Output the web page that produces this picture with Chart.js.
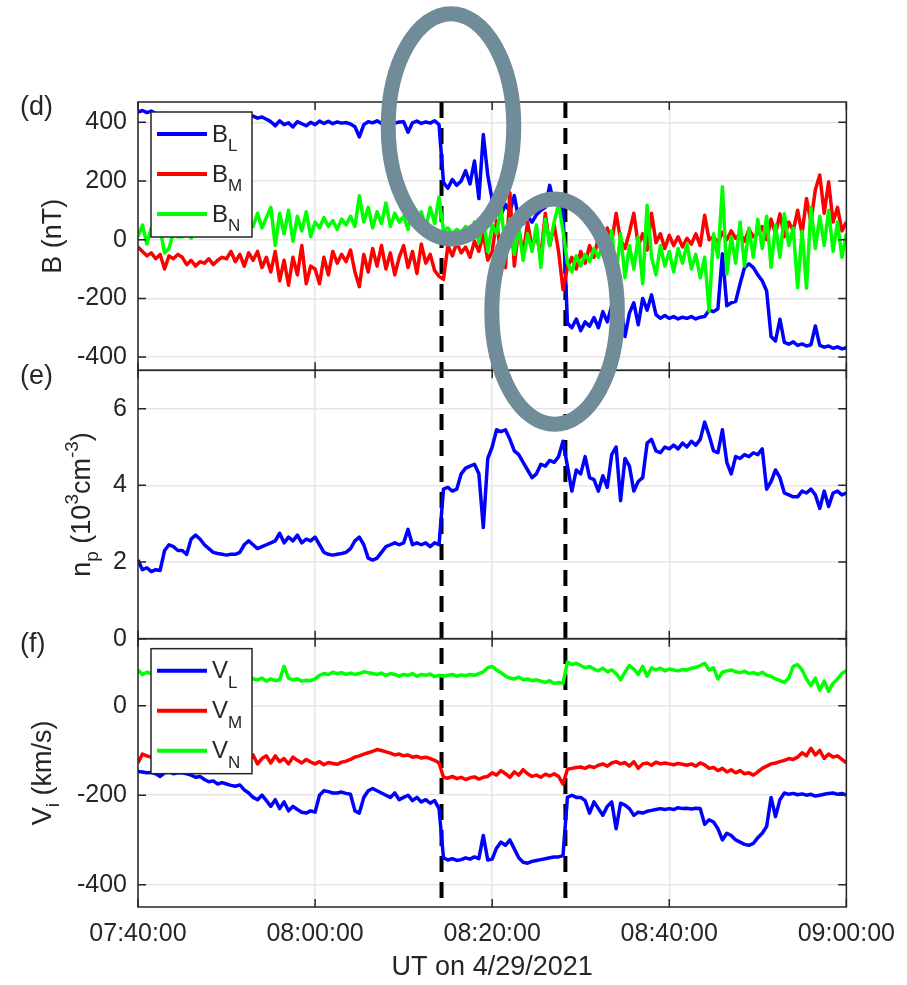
<!DOCTYPE html>
<html>
<head>
<meta charset="utf-8">
<title>B, n_p and V_i on 4/29/2021</title>
<script src="https://cdn.jsdelivr.net/npm/chart.js@4.4.1/dist/chart.umd.min.js"></script>
<style>
  html, body { margin: 0; padding: 0; background: #fff; }
  .canvasDiv { width: 907px; height: 985px; }
</style>
</head>
<body>
<div class="canvasDiv"><canvas id="myCanvas" width="907" height="985"></canvas></div>
<script>
// minutes after 07:40:00 UT, one sample every 30 s
const SAMPLE_STEP = 0.5;
const X_TICKS = [0, 20, 40, 60, 80];
const X_TICK_LABELS = ["07:40:00", "08:00:00", "08:20:00", "08:40:00", "09:00:00"];
const B_TICKS = [-400, -200, 0, 200, 400];
const N_TICKS = [0, 2, 4, 6];
const V_TICKS = [-400, -200, 0];

const bL = [
  435, 440, 433, 438, 430, 428, 430, 426, 428, 425,
  427, 424, 426, 422, 425, 423, 424, 421, 423, 420,
  422, 419, 421, 418, 420, 416, 421, 414, 418, 410,
  402, 388, 405, 392, 398, 384, 402, 395, 388, 400,
  392, 404, 396, 403, 395, 401, 397, 399, 394, 385,
  350, 392, 402, 398, 405, 396, 400, 403, 397, 401,
  402, 366, 398, 404, 396, 401, 397, 405, 392, 195,
  175, 205, 185, 200, 235, 190, 268, 140, 358, 220,
  135, 150, 85, 120, 95, 150, 70, 55, 80, 60,
  85, 100, 110, 185, 120, 135, 95, -285, -300, -270,
  -310, -280, -295, -265, -300, -245, -280, -225, -300, -215,
  -330, -250, -215, -290, -200, -240, -188, -255, -268, -258,
  -268, -262, -270, -264, -268, -262, -270, -264, -262, -240,
  -245, -235, -48, -225, -215, -210, -150, -95, -82, -95,
  -120, -140, -175, -330, -345, -271, -350, -356, -348, -360,
  -355, -362, -358, -294, -360, -366, -362, -370, -365, -372, -368
];
const bM = [
  -25, -40, -55, -45, -65, -50, -100, -55, -65, -50,
  -60, -85, -70, -90, -75, -80, -65, -85, -70, -60,
  -65, -40, -75, -50, -90, -45, -70, -40, -95, -60,
  -110, -40, -140, -70, -155, -60, -120, -20, -150, -90,
  -100, -150, -60, -120, -40, -80, -50, -75, -35, -110,
  -160, -50, -110, -30, -90, -20, -100, -45, -120, -60,
  -20, -95, -40, -115, -15, -80, -50, -105, -125, -135,
  -20, -55, -10, -45, -25, -60, -5, -40, 20, -70,
  -40, 65, -60, -95, 160, -90, 40, -50, 60, -30,
  20, -60, 90, -20, 50, -40, -170, -95, -60, -100,
  -40, -80, -20, -60, 10, -50, 40, -10, 90, 0,
  -30, 25, 90, -20, 20, -35, 90, -10, 20, -30,
  15, -20, 10, -25, 5, -15, 20, -20, 83, 0,
  10, -10, 25, 0, 30, 5, 20, -5, 35, 10,
  20, 45, 0, 70, 20, 88, 10, 60, 30, 100,
  20, 140, 60, 170, 220, 90, 197, 60, 110, 30, 60
];
const bN = [
  10, 50, -15, 40, 20, 35, -45, -30, 25, 10,
  10, 25, 5, 30, 15, 35, 20, 40, 25, 45,
  30, 50, 35, 55, 40, 60, 45, 90, 40, 75,
  110, -20, 90, 20, 100, -5, 80, 30, 95, 10,
  60, 40, 75, 45, 65, 35, 70, 50, 80, 45,
  150, 60, 110, 40, 95, 55, 125, 45, 90, 60,
  80, 35, 120, 50, 95, 40, 110, 55, 145, 30,
  40, 20, 35, 25, 45, 20, 60, -10, 75, -40,
  50, 20, 110, -30, 70, -50, 40, -70, 20, -40,
  50, -95, 70, -20, 60, 122, 30, -80, -110, -55,
  -90, -50, -75, -30, -60, -10, -45, 30, -120, 20,
  -130, -20, -100, 10, -150, 117, -60, -120, -20, -90,
  -40, -110, -30, -80, -15, -100, -50, -130, -60, -243,
  20, -60, 180, -117, 10, -80, 60, -90, 40, -60,
  70, -30, 80, -94, 50, -60, 88, -20, 40, -163,
  30, -165, 110, -30, 80, -20, 100, -40, 60, -60, 20
];
const np = [
  2.05, 1.8, 1.85, 1.75, 1.8, 1.78, 2.3, 2.45, 2.4, 2.3,
  2.3, 2.2, 2.6, 2.7, 2.6, 2.45, 2.35, 2.25, 2.22, 2.2,
  2.18, 2.2, 2.2, 2.25, 2.45, 2.55, 2.45, 2.35, 2.4, 2.45,
  2.5, 2.55, 2.75, 2.5, 2.65, 2.55, 2.7, 2.5, 2.6, 2.55,
  2.65, 2.45, 2.25, 2.2, 2.18, 2.2, 2.22, 2.25, 2.35, 2.55,
  2.65, 2.45, 2.1, 2.05, 2.1, 2.25, 2.4, 2.45, 2.5, 2.45,
  2.5, 2.85, 2.45, 2.5, 2.45, 2.5, 2.4, 2.5, 2.45, 3.9,
  3.95, 3.85, 3.9, 4.3, 4.45, 4.5, 4.55, 4.3, 2.9, 4.7,
  5.0, 5.45, 5.4, 5.45, 5.2, 4.9, 4.8, 4.6, 4.4, 4.2,
  4.3, 4.55, 4.5, 4.65, 4.6, 4.75, 5.15, 4.5, 3.85, 4.4,
  4.3, 4.75, 4.2, 4.15, 3.85, 4.25, 3.95, 4.8, 5.0, 3.6,
  4.7, 4.5, 3.85, 4.1, 4.2, 5.1, 5.2, 4.9, 4.85, 5.0,
  4.95, 5.05, 4.95, 5.1, 5.0, 5.15, 5.05, 5.2, 5.65, 5.3,
  4.9, 4.85, 5.45, 4.6, 4.3, 4.75, 4.7, 4.8, 4.75, 4.85,
  4.8, 4.95, 3.9, 4.1, 4.4, 4.2, 3.8, 3.75, 3.7, 3.7,
  3.85, 3.8, 3.9, 3.75, 3.4, 3.85, 3.45, 3.8, 3.85, 3.75, 3.8
];
const vL = [
  -147, -148, -150, -149, -152, -158, -150, -148, -152, -150,
  -150, -152, -155, -160, -158, -165, -170, -168, -175, -172,
  -175, -178, -180, -177, -188, -195, -205, -210, -200, -212,
  -225, -210, -230, -215, -235, -225, -232, -238, -240, -235,
  -238, -200, -190, -192, -195, -195, -193, -196, -198, -235,
  -240, -205, -190, -185, -190, -195, -200, -205, -195, -210,
  -205, -200, -212, -205, -215, -210, -218, -212, -230, -340,
  -345, -342, -346, -344, -340, -343, -338, -342, -290, -345,
  -343, -318, -305, -312, -300, -320, -340, -350, -352, -348,
  -346, -344, -342, -340, -338, -338, -335, -205, -200, -205,
  -205, -212, -240, -215, -230, -245, -225, -215, -275, -218,
  -222, -230, -245, -238, -240, -236, -234, -232, -230, -232,
  -230, -232, -228, -230, -229, -231, -229, -230, -265, -255,
  -260, -275, -300, -285, -290, -300, -305, -310, -312, -308,
  -295, -285, -270, -205, -248, -210, -195, -198, -196, -199,
  -197, -200, -198, -202, -200, -198, -196, -195, -198, -196, -200
];
const vM = [
  -128, -108, -112, -115, -118, -120, -118, -122, -120, -118,
  -120, -118, -122, -119, -121, -118, -120, -117, -119, -120,
  -118, -120, -117, -121, -115, -125, -110, -130, -118, -112,
  -128, -112, -125, -118, -130, -115, -122, -128, -120, -126,
  -130, -125, -132, -127, -129, -131, -126, -124, -120, -115,
  -112, -108, -105, -102, -98, -100, -103, -106, -110, -108,
  -112, -110, -115, -113, -117, -115, -118, -122, -128, -160,
  -162, -158, -163, -160, -165, -161, -159, -164, -160, -158,
  -150, -155, -145, -152, -160, -148, -155, -143, -152, -158,
  -155, -160, -153, -157, -152, -158, -175, -142, -140, -138,
  -137, -140, -135, -138, -133, -130, -135, -128, -125, -130,
  -127, -135, -125, -140, -130, -128, -133, -126, -130, -128,
  -130, -132, -129, -131, -133, -130, -135, -128, -132, -140,
  -138, -145, -140, -148, -143, -150, -145, -152, -150, -155,
  -148, -140, -135, -130, -128, -125, -122, -118, -120, -115,
  -105, -112, -95, -110, -100, -118, -108, -115, -112, -120, -128
];
const vN = [
  80, 70, 75, 72, 74, 70, 73, 71, 72, 70,
  72, 70, 68, 71, 70, 69, 72, 70, 68, 70,
  69, 71, 68, 66, 62, 68, 60, 58, 62, 55,
  60, 56, 58, 88, 62, 58, 60, 55, 57, 56,
  60, 68, 72, 70, 75, 72, 74, 70, 73, 70,
  72, 76, 74, 72, 70, 73, 68, 72, 70, 66,
  70, 68, 72, 66, 70, 68, 71, 65, 68, 66,
  68, 70, 66, 69, 67, 70, 68, 72, 76, 85,
  88, 80, 74, 66, 62, 60, 64, 58, 60, 56,
  58, 55, 52, 56, 50, 52, 50, 98, 92, 95,
  90, 85, 88, 82, 78, 84, 76, 80, 72, 58,
  75, 90, 82, 70, 88, 66, 85, 80, 84, 78,
  82, 80, 78, 81, 80, 84, 86, 90, 95, 80,
  85, 60, 75, 78, 80, 76, 74, 77, 72, 74,
  70, 75, 68, 66, 60, 56, 52, 62, 88, 92,
  80, 60, 45, 62, 35, 55, 32, 50, 60, 72, 78
];

// boundary crossings (dashed lines), minutes after 07:40
const EVENT_LINES = [34.28, 48.27];
// circled spots in panel (d): centre time / B value, half width in min, half height in nT
const MARK_T = [35.35, 47.05];
const MARK_B = [386, -245];
const MARK_HALF_T = 7.09;
const MARK_HALF_B = 384;

const textColor = "#262626";
const gridColor = "#e6e6e6";
const fontFamily = '"Liberation Sans", Arial, Helvetica, sans-serif';

const PANELS = ["yD", "yE", "yF"];
const PANEL_TAGS = { yD: "(d)", yE: "(e)", yF: "(f)" };
const Y_TITLES = {
  yD: [["B (nT)", 0]],
  yE: [["n", 0], ["p", -1], [" (10", 0], ["3", 1], ["cm", 0], ["-3", 1], [")", 0]],
  yF: [["V", 0], ["i", -1], [" (km/s)", 0]],
};
const Y_TITLE_GAP = { yD: 87, yE: 58, yF: 97 };

function toPoints(values) {
  return values.map((v, i) => ({ x: i * SAMPLE_STEP, y: v }));
}

function line(label, values, color, axis, order) {
  return {
    label: label,
    data: toPoints(values),
    borderColor: color,
    backgroundColor: color,
    borderWidth: 3.5,
    borderJoinStyle: "round",
    pointRadius: 0,
    fill: false,
    tension: 0,
    yAxisID: axis,
    order: order,
  };
}

function yPanel(min, max, tickValues) {
  return {
    type: "linear",
    position: "left",
    stack: "panels",
    stackWeight: 1,
    min: min,
    max: max,
    afterBuildTicks: (scale) => {
      scale.ticks = tickValues.map((v) => ({ value: v }));
    },
    afterFit: (scale) => {
      scale.width = 138;
    },
    ticks: {
      color: textColor,
      font: { family: fontFamily, size: 25 },
      padding: 11,
      callback: (v) => String(v),
    },
    grid: { color: gridColor, lineWidth: 1.5, drawTicks: false },
    border: { display: false },
  };
}

function richWidth(ctx, parts, size) {
  let w = 0;
  parts.forEach(([txt, lvl]) => {
    ctx.font = `${lvl ? size * 0.7 : size}px ${fontFamily}`;
    w += ctx.measureText(txt).width;
  });
  return w;
}

function richDraw(ctx, parts, x, y, size) {
  parts.forEach(([txt, lvl]) => {
    ctx.font = `${lvl ? size * 0.7 : size}px ${fontFamily}`;
    let dy = 0;
    if (lvl < 0) dy = size * 0.32;
    if (lvl > 0) dy = -size * 0.42;
    ctx.fillText(txt, x, y + dy);
    x += ctx.measureText(txt).width;
  });
}

function drawLegend(chart, axisId) {
  const ctx = chart.ctx;
  const s = chart.scales[axisId];
  const left = chart.chartArea.left + 13;
  const top = s.top + 10;
  const items = chart.data.datasets.filter((d) => d.yAxisID === axisId);
  ctx.save();
  ctx.fillStyle = "#fff";
  ctx.fillRect(left, top, 101, 125);
  ctx.strokeStyle = textColor;
  ctx.lineWidth = 1.5;
  ctx.strokeRect(left, top, 101, 125);
  ctx.textBaseline = "alphabetic";
  ctx.textAlign = "left";
  items.forEach((d, k) => {
    const rowY = top + 22 + k * 40;
    ctx.strokeStyle = d.borderColor;
    ctx.lineWidth = 4;
    ctx.beginPath();
    ctx.moveTo(left + 6, rowY);
    ctx.lineTo(left + 56, rowY);
    ctx.stroke();
    const [main, sub] = d.label.split("_");
    ctx.fillStyle = textColor;
    ctx.font = `24px ${fontFamily}`;
    ctx.fillText(main, left + 61, rowY + 7.5);
    const w = ctx.measureText(main).width;
    ctx.font = `17px ${fontFamily}`;
    ctx.fillText(sub, left + 61 + w, rowY + 17);
  });
  ctx.restore();
}

const figurePlugin = {
  id: "figurePlugin",
  beforeDatasetsDraw(chart) {
    const { ctx, chartArea } = chart;
    const xs = chart.scales.x;
    ctx.save();
    ctx.setLineDash([16, 10]);
    ctx.lineWidth = 4;
    ctx.strokeStyle = "#000";
    EVENT_LINES.forEach((t) => {
      const px = xs.getPixelForValue(t);
      ctx.beginPath();
      ctx.moveTo(px, chartArea.top);
      ctx.lineTo(px, chartArea.bottom);
      ctx.stroke();
    });
    ctx.restore();
  },
  afterDatasetsDraw(chart) {
    const { ctx, chartArea } = chart;
    const xs = chart.scales.x;
    ctx.save();
    ctx.strokeStyle = textColor;
    ctx.lineWidth = 1.5;
    PANELS.forEach((id) => {
      const s = chart.scales[id];
      ctx.strokeRect(chartArea.left, s.top, chartArea.right - chartArea.left, s.bottom - s.top);
      ctx.beginPath();
      s.ticks.forEach((t) => {
        const py = s.getPixelForValue(t.value);
        ctx.moveTo(chartArea.left, py);
        ctx.lineTo(chartArea.left + 8, py);
        ctx.moveTo(chartArea.right, py);
        ctx.lineTo(chartArea.right - 8, py);
      });
      X_TICKS.forEach((v) => {
        const px = xs.getPixelForValue(v);
        ctx.moveTo(px, s.top);
        ctx.lineTo(px, s.top + 8);
        ctx.moveTo(px, s.bottom);
        ctx.lineTo(px, s.bottom - 8);
      });
      ctx.stroke();
    });
    ctx.restore();
    drawLegend(chart, "yD");
    drawLegend(chart, "yF");
  },
  afterDraw(chart) {
    const { ctx, chartArea } = chart;
    const xs = chart.scales.x;
    const yD = chart.scales.yD;

    ctx.save();
    ctx.fillStyle = textColor;
    PANELS.forEach((id) => {
      const s = chart.scales[id];
      ctx.font = `27px ${fontFamily}`;
      ctx.textAlign = "left";
      ctx.textBaseline = "middle";
      ctx.fillText(PANEL_TAGS[id], 20, s.top + 6);

      ctx.save();
      ctx.textBaseline = "alphabetic";
      ctx.translate(chartArea.left - Y_TITLE_GAP[id], (s.top + s.bottom) / 2);
      ctx.rotate(-Math.PI / 2);
      const w = richWidth(ctx, Y_TITLES[id], 27);
      richDraw(ctx, Y_TITLES[id], -w / 2, 27 * 0.36, 27);
      ctx.restore();
    });
    ctx.restore();

    ctx.save();
    ctx.strokeStyle = "rgb(112, 140, 152)";
    ctx.lineWidth = 15;
    MARK_T.forEach((t, k) => {
      const cx = xs.getPixelForValue(t);
      const cy = yD.getPixelForValue(MARK_B[k]);
      const rx = xs.getPixelForValue(t + MARK_HALF_T) - cx;
      const ry = yD.getPixelForValue(MARK_B[k] - MARK_HALF_B) - cy;
      ctx.beginPath();
      ctx.ellipse(cx, cy, rx, ry, 0, 0, Math.PI * 2);
      ctx.stroke();
    });
    ctx.restore();
  },
};

const canvas = document.querySelector("#myCanvas");

const data = {
  datasets: [
    line("B_L", bL, "#0000ff", "yD", 3),
    line("B_M", bM, "#ff0000", "yD", 2),
    line("B_N", bN, "#00ff00", "yD", 1),
    line("n_p", np, "#0000ff", "yE", 1),
    line("V_L", vL, "#0000ff", "yF", 3),
    line("V_M", vM, "#ff0000", "yF", 2),
    line("V_N", vN, "#00ff00", "yF", 1),
  ],
};

const config = {
  type: "line",
  data: data,
  options: {
    responsive: false,
    animation: false,
    devicePixelRatio: 1,
    layout: { padding: { top: 102, right: 58, bottom: 0, left: 0 } },
    plugins: { legend: { display: false }, tooltip: { enabled: false } },
    scales: {
      x: {
        type: "linear",
        min: 0,
        max: 80,
        afterBuildTicks: (scale) => {
          scale.ticks = X_TICKS.map((v) => ({ value: v }));
        },
        afterFit: (scale) => {
          scale.height = 78;
        },
        ticks: {
          color: textColor,
          font: { family: fontFamily, size: 25 },
          padding: 12,
          maxRotation: 0,
          autoSkip: false,
          callback: (v) => X_TICK_LABELS[X_TICKS.indexOf(v)],
        },
        grid: { color: gridColor, lineWidth: 1.5, drawTicks: false },
        border: { display: false },
        title: {
          display: true,
          text: "UT on 4/29/2021",
          color: textColor,
          font: { family: fontFamily, size: 27 },
          padding: { top: 0, bottom: 1 },
        },
      },
      // bottom panel first: stacked left axes are laid out from the last one down
      yF: yPanel(-450, 150, V_TICKS),
      yE: yPanel(0, 7, N_TICKS),
      yD: yPanel(-445, 469, B_TICKS),
    },
  },
  plugins: [figurePlugin],
};

const myChart = new Chart(canvas, config);
</script>
</body>
</html>
